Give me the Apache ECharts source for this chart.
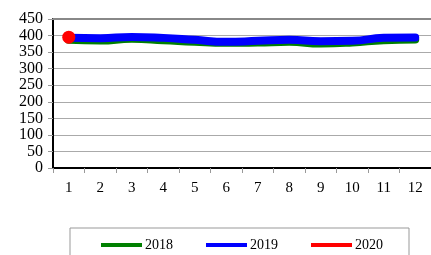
<!DOCTYPE html>
<html><head><meta charset="utf-8">
<script src="https://cdn.jsdelivr.net/npm/echarts@6/dist/echarts.min.js"></script>
<style>html,body{margin:0;padding:0;background:#fff}#c{width:431px;height:255px}</style>
</head><body><div id="c"></div>
<script>
const months = ['1','2','3','4','5','6','7','8','9','10','11','12'];
const s2018 = [387, 385, 390, 386, 381, 378, 379, 381, 376, 379, 386, 388];
const s2019 = [393, 392, 396, 393, 387, 381, 384, 387, 383, 384, 393, 394];
const s2020 = [395];
const yTicks = [0, 450, 50];
const FONT = '"Liberation Serif", "DejaVu Serif", serif';

const chart = echarts.init(document.getElementById('c'), null, {renderer: 'canvas'});
chart.setOption({
  animation: false,
  grid: {left: 53, top: 19, width: 382, height: 149, containLabel: false},
  xAxis: {
    type: 'category', data: months, boundaryGap: true,
    axisLine: {lineStyle: {color: '#000', width: 2}},
    axisTick: {show: true, length: 5, lineStyle: {color: '#999'}},
    axisLabel: {color: '#000', fontFamily: FONT, fontSize: 15, margin: 13}
  },
  yAxis: {
    type: 'value', min: yTicks[0], max: yTicks[1], interval: yTicks[2],
    axisLine: {show: true, lineStyle: {color: '#000', width: 2}},
    axisTick: {show: true, length: 5, lineStyle: {color: '#999'}},
    splitLine: {lineStyle: {color: '#aaa', width: 1}},
    axisLabel: {color: '#000', fontFamily: FONT, fontSize: 16, margin: 10}
  },
  legend: {
    left: 70, top: 228,
    padding: [10, 26, 12, 31],
    borderColor: '#999', borderWidth: 1,
    itemWidth: 41, itemHeight: 4, itemGap: 33,
    icon: 'rect',
    textStyle: {color: '#000', fontFamily: FONT, fontSize: 14, padding: [0,0,0,-2]},
    data: ['2018', '2019', '2020']
  },
  series: [
    {name: '2018', type: 'line', data: s2018, smooth: true, symbol: 'none',
     lineStyle: {color: '#008000', width: 8, cap: 'round'}, itemStyle: {color: '#008000'},
     markLine: {silent: true, symbol: 'none', label: {show: false},
       lineStyle: {color: '#888', width: 2, type: 'solid'}, data: [{yAxis: yTicks[1]}]}},
    {name: '2019', type: 'line', data: s2019, smooth: true, symbol: 'none',
     lineStyle: {color: '#0000ff', width: 8, cap: 'round'}, itemStyle: {color: '#0000ff'}},
    {name: '2020', type: 'line', data: s2020, symbol: 'circle', symbolSize: 13,
     lineStyle: {color: '#ff0000', width: 4}, itemStyle: {color: '#ff0000'}}
  ]
});
</script></body></html>
